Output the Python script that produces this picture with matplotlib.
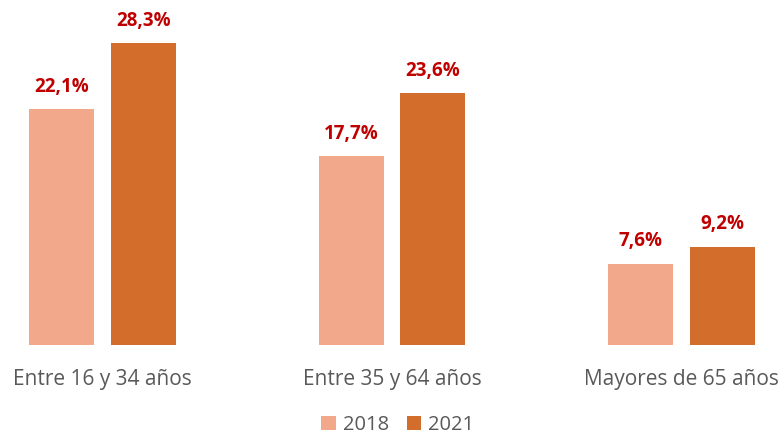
import numpy as np
import matplotlib.pyplot as plt

categories = ["Entre 16 y 34 años", "Entre 35 y 64 años", "Mayores de 65 años"]
years = ["2018", "2021"]
values_2018 = [22.1, 17.7, 7.6]
values_2021 = [28.3, 23.6, 9.2]

COLORS = ["#F2A98B", "#D36D2B"]
LABEL_COLOR = "#C00000"
TEXT_COLOR = "#595959"


def fmt(v):
    return f"{v:.1f}".replace(".", ",") + "%"


def main():
    plt.rcParams["font.family"] = ["Open Sans", "DejaVu Sans"]
    fig = plt.figure(figsize=(7.8, 4.38), dpi=100)
    ax = fig.add_axes([0, 93 / 438, 1, 345 / 438])

    x = np.arange(len(categories))
    width = 0.2245
    offset = 0.1416

    for i, (vals, year) in enumerate(zip([values_2018, values_2021], years)):
        pos = x + (offset if i else -offset)
        bars = ax.bar(pos, vals, width, color=COLORS[i], label=year)
        for b, v in zip(bars, vals):
            ax.annotate(fmt(v), (b.get_x() + b.get_width() / 2, v),
                        xytext=(0, 9), textcoords="offset points",
                        ha="center", va="bottom", fontsize=13.5,
                        fontweight="bold", color=LABEL_COLOR)

    ax.set_xlim(-102.5 / 289.5, (780 - 102.5) / 289.5)
    ax.set_ylim(0, 345 / 10.67)
    ax.set_yticks([])
    ax.set_xticks(x)
    ax.set_xticklabels(categories, fontsize=15, color=TEXT_COLOR)
    ax.tick_params(axis="x", length=0, pad=17)
    for s in ax.spines.values():
        s.set_visible(False)

    fig.legend(loc="lower center", bbox_to_anchor=(0.51, -0.035), ncol=2,
               frameon=False, fontsize=14.5, labelcolor=TEXT_COLOR,
               handlelength=0.7, handleheight=0.7, handletextpad=0.35,
               columnspacing=0.9)

    fig.savefig("out.png", dpi=100)
    plt.close(fig)


if __name__ == "__main__":
    main()
